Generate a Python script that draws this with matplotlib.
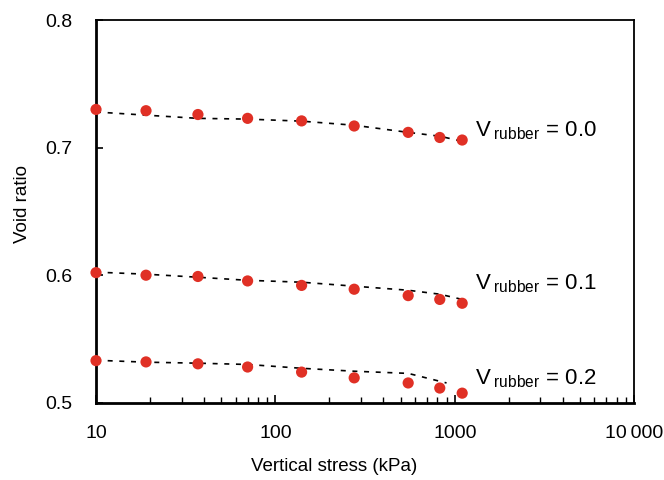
import numpy as np
import matplotlib.pyplot as plt
from matplotlib.ticker import FixedLocator, LogLocator, NullFormatter

plt.rcParams['font.family'] = ['Liberation Sans', 'DejaVu Sans']

stress = [10, 19, 37, 70, 140, 275, 550, 825, 1100]

void_00 = [0.730, 0.729, 0.726, 0.723, 0.721, 0.717, 0.712, 0.708, 0.706]
void_01 = [0.602, 0.600, 0.599, 0.5955, 0.592, 0.589, 0.584, 0.581, 0.578]
void_02 = [0.533, 0.532, 0.5305, 0.528, 0.524, 0.5195, 0.5155, 0.5115, 0.5075]

fit_00 = [0.728, 0.7255, 0.723, 0.7224, 0.7208, 0.7176, 0.712, 0.709, 0.705]
fit_01 = [0.6024, 0.6008, 0.5984, 0.596, 0.5945, 0.5914, 0.5882, 0.5851, 0.581]
fit_02 = [0.5333, 0.5318, 0.531, 0.530, 0.527, 0.5247, 0.523, 0.5155]
fit_02_x = [10, 19, 37, 70, 140, 275, 550, 900]

labels = ['0.0', '0.1', '0.2']
label_y = [0.7137, 0.5937, 0.519]

fig, ax = plt.subplots(figsize=(6.64, 4.8), dpi=100)
fig.subplots_adjust(left=0.1446, right=0.955, top=0.958, bottom=0.161)

red = '#e03025'
for fx, fy in [(stress, fit_00), (stress, fit_01), (fit_02_x, fit_02)]:
    ax.plot(fx, fy, linestyle=(0, (3, 4)), color='black', lw=1.2, zorder=2)
for v in [void_00, void_01, void_02]:
    ax.scatter(stress, v, s=65, color=red, zorder=3, clip_on=False, edgecolors='none')

for lab, yy in zip(labels, label_y):
    ax.text(1300, yy, 'V$\\,_{\\mathregular{rubber}}$ = ' + lab, fontsize=16, va='center', ha='left')

ax.set_xscale('log')
ax.set_xlim(10, 10000)
ax.set_ylim(0.5, 0.8)
ax.xaxis.set_major_locator(FixedLocator([10, 100, 1000, 10000]))
ax.set_xticklabels(['10', '100', '1000', '10\u2009000'])
ax.xaxis.set_minor_locator(LogLocator(base=10, subs=np.arange(2, 10)))
ax.xaxis.set_minor_formatter(NullFormatter())
ax.set_yticks([0.5, 0.6, 0.7, 0.8])
ax.set_yticklabels(['0.5', '0.6', '0.7', '0.8'])

ax.tick_params(axis='both', which='major', direction='in', labelsize=14, length=5, width=1.2)
ax.tick_params(axis='y', which='major', pad=17)
ax.tick_params(axis='x', which='minor', direction='in', length=4, width=1.0)
ax.tick_params(axis='x', which='major', length=6, pad=16)

for s in ['left', 'bottom']:
    ax.spines[s].set_linewidth(2.0)
for s in ['top', 'right']:
    ax.spines[s].set_linewidth(1.3)

ax.set_xlabel('Vertical stress (kPa)', fontsize=13.5)
ax.set_ylabel('Void ratio', fontsize=13.5)
ax.xaxis.set_label_coords(0.442, -0.145)
ax.yaxis.set_label_coords(-0.12, 0.52)

fig.savefig('out.png', dpi=100)
